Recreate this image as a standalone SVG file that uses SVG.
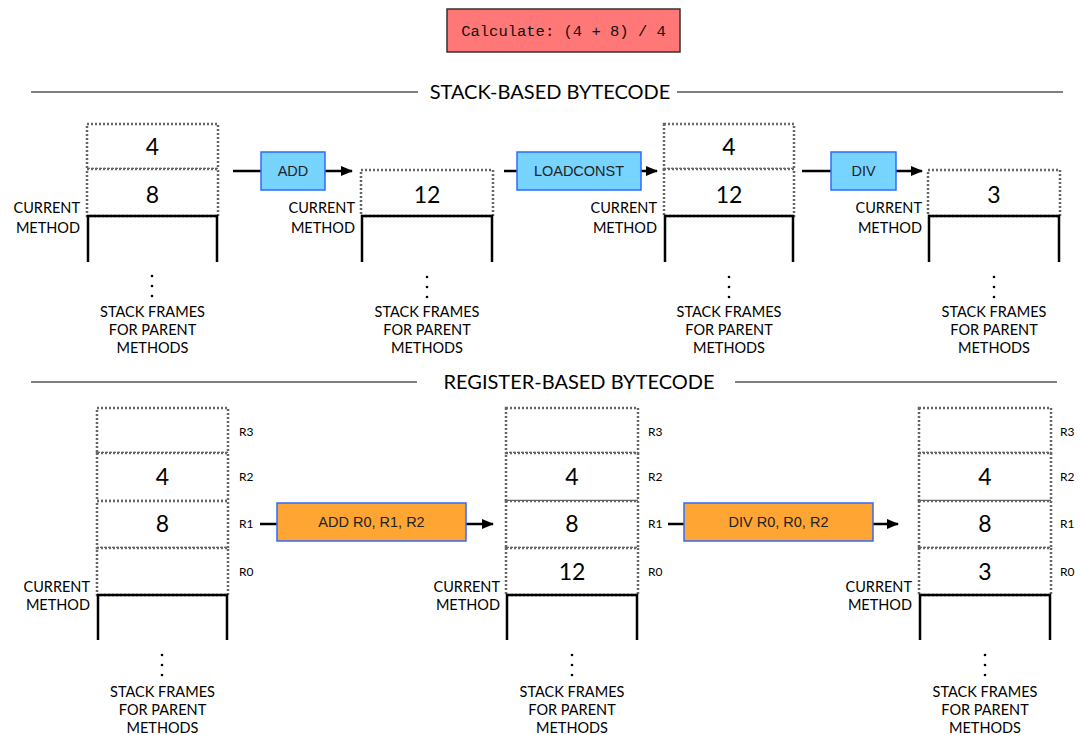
<svg xmlns="http://www.w3.org/2000/svg" width="1080" height="735" viewBox="0 0 1080 735">
<defs>
<marker id="ah" viewBox="0 0 12 10" refX="11" refY="5" markerWidth="12" markerHeight="10" markerUnits="userSpaceOnUse" orient="auto">
<path d="M0,0 L12,5 L0,10 Z" fill="#000"/>
</marker>
<style>
.cell{fill:#fff;stroke:#666;stroke-width:2.5;stroke-dasharray:2 2}
.frame{fill:none;stroke:#000;stroke-width:2.5}
.val{font-family:Lato,"Open Sans",sans-serif;font-size:23px;fill:#000;text-anchor:middle}
.lbl{font-family:Lato,"Open Sans",sans-serif;font-size:14.5px;fill:#000}
.cm{text-anchor:end}
.sf{text-anchor:middle}
.reg{font-family:Lato,"Open Sans",sans-serif;font-size:12px;fill:#000}
.title{font-family:Lato,"Open Sans",sans-serif;font-size:20px;fill:#000;text-anchor:middle}
.sec{stroke:#000;stroke-width:1.2}
.op{fill:#77D4FF;stroke:#2E6BFF;stroke-width:1.5}
.op2{fill:#FFA533;stroke:#2E6BFF;stroke-width:1.5}
.optx{font-family:"Liberation Sans",Arial,sans-serif;font-size:14.5px;fill:#222;text-anchor:middle}
.con{stroke:#000;stroke-width:2.5;fill:none}
.dot{fill:#000}
</style>
</defs>
<rect width="1080" height="735" fill="#fff"/>

<g id="calc">
<rect x="447" y="9" width="233" height="43" fill="#FF7777" stroke="#333" stroke-width="1.5"/>
<text x="563.5" y="36" font-family="Liberation Mono,'DejaVu Sans Mono',monospace" font-size="15.5" fill="#111" text-anchor="middle">Calculate: (4 + 8) / 4</text>
</g>

<g id="section-stack">
<line class="sec" x1="31" y1="92" x2="418" y2="92"/>
<line class="sec" x1="677" y1="92" x2="1063" y2="92"/>
<text class="title" x="550" y="99">STACK-BASED BYTECODE</text>
</g>

<g id="section-register">
<line class="sec" x1="31" y1="382" x2="417" y2="382"/>
<line class="sec" x1="735" y1="382" x2="1057" y2="382"/>
<text class="title" x="579" y="389">REGISTER-BASED BYTECODE</text>
</g>

<!-- Stack-based stacks -->
<g id="s1">
<rect class="cell" x="87" y="124" width="131" height="45"/>
<rect class="cell" x="87" y="169" width="131" height="47"/>
<path class="frame" d="M88,262 V216 H217 V262"/>
<text class="val" x="152.5" y="155">4</text>
<text class="val" x="152.5" y="203">8</text>
<text class="lbl cm" x="80" y="213">CURRENT</text>
<text class="lbl cm" x="80" y="233">METHOD</text>
<circle class="dot" cx="152" cy="276" r="1.3"/><circle class="dot" cx="152" cy="286" r="1.3"/><circle class="dot" cx="152" cy="296" r="1.3"/>
<text class="lbl sf" x="152.5" y="317">STACK FRAMES</text>
<text class="lbl sf" x="152.5" y="335">FOR PARENT</text>
<text class="lbl sf" x="152.5" y="353">METHODS</text>
</g>

<g id="s2">
<rect class="cell" x="361" y="170" width="132" height="46"/>
<path class="frame" d="M362,262 V216 H492 V262"/>
<text class="val" x="427" y="203">12</text>
<text class="lbl cm" x="355" y="213">CURRENT</text>
<text class="lbl cm" x="355" y="233">METHOD</text>
<circle class="dot" cx="427" cy="277" r="1.3"/><circle class="dot" cx="427" cy="287" r="1.3"/><circle class="dot" cx="427" cy="297" r="1.3"/>
<text class="lbl sf" x="427" y="317">STACK FRAMES</text>
<text class="lbl sf" x="427" y="335">FOR PARENT</text>
<text class="lbl sf" x="427" y="353">METHODS</text>
</g>

<g id="s3">
<rect class="cell" x="664" y="124" width="130" height="45"/>
<rect class="cell" x="664" y="169" width="130" height="47"/>
<path class="frame" d="M665,262 V216 H793 V262"/>
<text class="val" x="729" y="155">4</text>
<text class="val" x="729" y="203">12</text>
<text class="lbl cm" x="657" y="213">CURRENT</text>
<text class="lbl cm" x="657" y="233">METHOD</text>
<circle class="dot" cx="729" cy="277" r="1.3"/><circle class="dot" cx="729" cy="287" r="1.3"/><circle class="dot" cx="729" cy="297" r="1.3"/>
<text class="lbl sf" x="729" y="317">STACK FRAMES</text>
<text class="lbl sf" x="729" y="335">FOR PARENT</text>
<text class="lbl sf" x="729" y="353">METHODS</text>
</g>

<g id="s4">
<rect class="cell" x="928" y="170" width="132" height="46"/>
<path class="frame" d="M929,262 V216 H1059 V262"/>
<text class="val" x="994" y="203">3</text>
<text class="lbl cm" x="922" y="213">CURRENT</text>
<text class="lbl cm" x="922" y="233">METHOD</text>
<circle class="dot" cx="994" cy="277" r="1.3"/><circle class="dot" cx="994" cy="287" r="1.3"/><circle class="dot" cx="994" cy="297" r="1.3"/>
<text class="lbl sf" x="994" y="317">STACK FRAMES</text>
<text class="lbl sf" x="994" y="335">FOR PARENT</text>
<text class="lbl sf" x="994" y="353">METHODS</text>
</g>

<!-- Register-based stacks -->
<g id="r1">
<rect class="cell" x="97" y="408" width="131" height="45"/>
<rect class="cell" x="97" y="453" width="131" height="48"/>
<rect class="cell" x="97" y="501" width="131" height="47"/>
<rect class="cell" x="97" y="548" width="131" height="47"/>
<path class="frame" d="M98,640 V595 H227 V640"/>
<text class="val" x="162.5" y="485">4</text>
<text class="val" x="162.5" y="532">8</text>
<text class="reg" x="239" y="436">R3</text>
<text class="reg" x="239" y="481">R2</text>
<text class="reg" x="239" y="528">R1</text>
<text class="reg" x="239" y="576">R0</text>
<text class="lbl cm" x="90" y="592">CURRENT</text>
<text class="lbl cm" x="90" y="610">METHOD</text>
<circle class="dot" cx="162" cy="655" r="1.3"/><circle class="dot" cx="162" cy="665" r="1.3"/><circle class="dot" cx="162" cy="675" r="1.3"/>
<text class="lbl sf" x="162.5" y="697">STACK FRAMES</text>
<text class="lbl sf" x="162.5" y="715">FOR PARENT</text>
<text class="lbl sf" x="162.5" y="733">METHODS</text>
</g>

<g id="r2">
<rect class="cell" x="506" y="408" width="132" height="45"/>
<rect class="cell" x="506" y="453" width="132" height="48"/>
<rect class="cell" x="506" y="501" width="132" height="47"/>
<rect class="cell" x="506" y="548" width="132" height="47"/>
<path class="frame" d="M507,640 V595 H637 V640"/>
<text class="val" x="572" y="485">4</text>
<text class="val" x="572" y="532">8</text>
<text class="val" x="572" y="580">12</text>
<text class="reg" x="648" y="436">R3</text>
<text class="reg" x="648" y="481">R2</text>
<text class="reg" x="648" y="528">R1</text>
<text class="reg" x="648" y="576">R0</text>
<text class="lbl cm" x="500" y="592">CURRENT</text>
<text class="lbl cm" x="500" y="610">METHOD</text>
<circle class="dot" cx="572" cy="655" r="1.3"/><circle class="dot" cx="572" cy="665" r="1.3"/><circle class="dot" cx="572" cy="675" r="1.3"/>
<text class="lbl sf" x="572" y="697">STACK FRAMES</text>
<text class="lbl sf" x="572" y="715">FOR PARENT</text>
<text class="lbl sf" x="572" y="733">METHODS</text>
</g>

<g id="r3">
<rect class="cell" x="919" y="408" width="132" height="45"/>
<rect class="cell" x="919" y="453" width="132" height="48"/>
<rect class="cell" x="919" y="501" width="132" height="47"/>
<rect class="cell" x="919" y="548" width="132" height="47"/>
<path class="frame" d="M920,640 V595 H1050 V640"/>
<text class="val" x="985" y="485">4</text>
<text class="val" x="985" y="532">8</text>
<text class="val" x="985" y="580">3</text>
<text class="reg" x="1060" y="436">R3</text>
<text class="reg" x="1060" y="481">R2</text>
<text class="reg" x="1060" y="528">R1</text>
<text class="reg" x="1060" y="576">R0</text>
<text class="lbl cm" x="912" y="592">CURRENT</text>
<text class="lbl cm" x="912" y="610">METHOD</text>
<circle class="dot" cx="985" cy="655" r="1.3"/><circle class="dot" cx="985" cy="665" r="1.3"/><circle class="dot" cx="985" cy="675" r="1.3"/>
<text class="lbl sf" x="985" y="697">STACK FRAMES</text>
<text class="lbl sf" x="985" y="715">FOR PARENT</text>
<text class="lbl sf" x="985" y="733">METHODS</text>
</g>

<g id="connectors">
<line class="con" x1="233" y1="171" x2="261" y2="171"/>
<line class="con" x1="325" y1="171" x2="352" y2="171" marker-end="url(#ah)"/>
<line class="con" x1="504" y1="171" x2="517" y2="171"/>
<line class="con" x1="641" y1="171" x2="657" y2="171" marker-end="url(#ah)"/>
<line class="con" x1="802" y1="171" x2="831" y2="171"/>
<line class="con" x1="896" y1="171" x2="922" y2="171" marker-end="url(#ah)"/>
<line class="con" x1="260" y1="524" x2="277" y2="524"/>
<line class="con" x1="466" y1="524" x2="493" y2="524" marker-end="url(#ah)"/>
<line class="con" x1="668" y1="524" x2="684" y2="524"/>
<line class="con" x1="873" y1="524" x2="898" y2="524" marker-end="url(#ah)"/>
</g>

<g id="op-add">
<rect class="op" x="261" y="152" width="64" height="38"/>
<text class="optx" x="293" y="176">ADD</text>
</g>
<g id="op-loadconst">
<rect class="op" x="517" y="152" width="124" height="38"/>
<text class="optx" x="579" y="176">LOADCONST</text>
</g>
<g id="op-div">
<rect class="op" x="831" y="152" width="65" height="38"/>
<text class="optx" x="863.5" y="176">DIV</text>
</g>
<g id="op-radd">
<rect class="op2" x="277" y="503" width="189" height="38"/>
<text class="optx" x="371.5" y="527">ADD R0, R1, R2</text>
</g>
<g id="op-rdiv">
<rect class="op2" x="684" y="503" width="189" height="38"/>
<text class="optx" x="778.5" y="527">DIV R0, R0, R2</text>
</g>
</svg>
